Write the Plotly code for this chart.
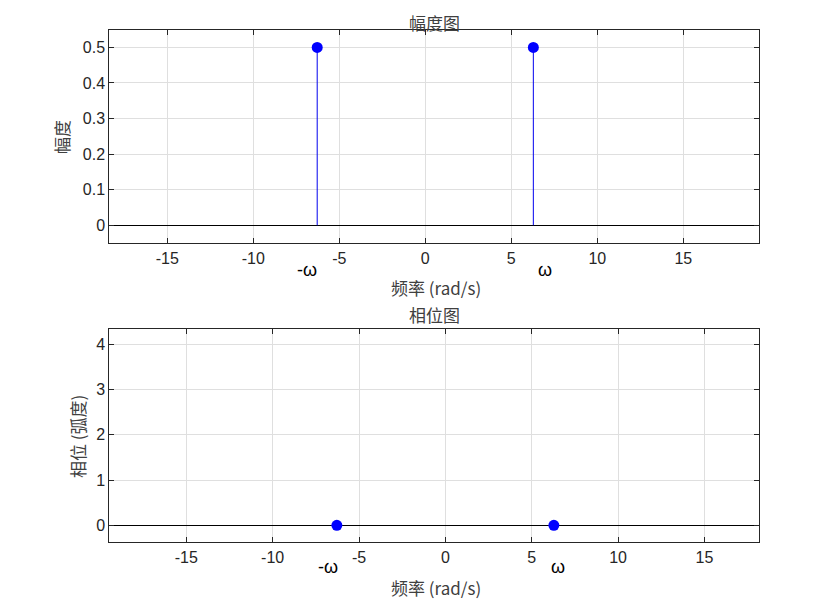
import plotly.graph_objects as go

# Data
freq = [-6.2832, 6.2832]           # ±ω (rad/s), ω = 2π
magnitude = [0.5, 0.5]
phase = [0.0, 0.0]
xticks = [-15, -10, -5, 0, 5, 10, 15]
mag_yticks = [0, 0.1, 0.2, 0.3, 0.4, 0.5]
phase_yticks = [0, 1, 2, 3, 4]
omega_labels = ["-ω", "ω"]

W, H = 840, 613
OFF = 8  # page body margin
AX = "#262626"
GRID = "#dfdfdf"
LATIN = "Arial, 'Liberation Sans', Helvetica, sans-serif"
TICKFONT = dict(family=LATIN, size=16, color=AX)
CJK = dict(family="'Noto Sans CJK SC'", size=17, color="#404040")


def px(x):
    return (x - OFF) / W


def py(y):
    return 1 - (y - OFF) / H


def fmt(v):
    return "%g" % v


fig = go.Figure()


def stems(xs, ys):
    sx, sy = [], []
    for x, y in zip(xs, ys):
        sx += [x, x, None]
        sy += [0, y, None]
    return sx, sy


sx, sy = stems(freq, magnitude)
fig.add_trace(go.Scatter(x=sx, y=sy, mode="lines", line=dict(color="#0000ee", width=1),
                         xaxis="x", yaxis="y", showlegend=False, hoverinfo="skip"))
fig.add_trace(go.Scatter(x=freq, y=magnitude, mode="markers",
                         marker=dict(color="#0000ff", size=11), xaxis="x", yaxis="y", showlegend=False))
sx2, sy2 = stems(freq, phase)
fig.add_trace(go.Scatter(x=sx2, y=sy2, mode="lines", line=dict(color="#0000ee", width=1),
                         xaxis="x2", yaxis="y2", showlegend=False, hoverinfo="skip"))
fig.add_trace(go.Scatter(x=freq, y=phase, mode="markers",
                         marker=dict(color="#0000ff", size=11), xaxis="x2", yaxis="y2", showlegend=False))

xdom = [px(109.3), px(759.3)]
top_dom = [py(243.3), py(30.3)]
bot_dom = [py(542.3), py(329.3)]

common_x = dict(tickvals=xticks, ticktext=[fmt(v) for v in xticks], ticks="inside", ticklen=5,
                tickcolor=AX, showline=True, linecolor=AX, linewidth=1, mirror="ticks",
                showgrid=True, gridcolor=GRID, zeroline=False, tickfont=TICKFONT, domain=xdom)
common_y = dict(ticks="inside", ticklen=5, tickcolor=AX, showline=True, linecolor=AX,
                linewidth=1, mirror="ticks", showgrid=True, gridcolor=GRID, zeroline=True,
                zerolinecolor="#000000", zerolinewidth=1, tickfont=TICKFONT)

fig.update_layout(
    width=W, height=H, margin=dict(l=0, r=0, t=0, b=0),
    paper_bgcolor="white", plot_bgcolor="white",
    xaxis=dict(common_x, range=[-18.37, 19.42], anchor="y"),
    yaxis=dict(common_y, range=[-0.0506, 0.548], tickvals=mag_yticks,
               ticktext=[fmt(v) for v in mag_yticks], domain=top_dom, anchor="x"),
    xaxis2=dict(common_x, range=[-19.46, 18.18], anchor="y2"),
    yaxis2=dict(common_y, range=[-0.376, 4.33], tickvals=phase_yticks,
                ticktext=[fmt(v) for v in phase_yticks], domain=bot_dom, anchor="x2"),
)


def label(text, x, y, font, angle=0, yanchor="middle"):
    return dict(text=text, x=px(x), y=py(y), xref="paper", yref="paper", showarrow=False,
                font=font, xanchor="center", yanchor=yanchor, textangle=angle)


annots = [
    label("幅度图", 434, 8, CJK, yanchor="top"),
    label("频率 (rad/s)", 436, 288, CJK),
    label("幅度", 61, 137, CJK, -90),
    label("相位图", 434, 315, CJK),
    label("频率 (rad/s)", 436, 587, CJK),
    label("相位 (弧度)", 77, 437, CJK, -90),
]
# ω labels under the axes
OMF = dict(family=LATIN, size=18, color="#000000")
top_lab_x = [-6.85, 6.96]
bot_lab_x = [-6.79, 6.53]
for lx, lab in zip(top_lab_x, omega_labels):
    annots.append(dict(text=lab, x=lx, y=py(270), xref="x", yref="paper", showarrow=False,
                       font=OMF, xanchor="center", yanchor="middle"))
for lx, lab in zip(bot_lab_x, omega_labels):
    annots.append(dict(text=lab, x=lx, y=py(567), xref="x2", yref="paper", showarrow=False,
                       font=OMF, xanchor="center", yanchor="middle"))
fig.update_layout(annotations=annots)

fig.write_html("out.html")
